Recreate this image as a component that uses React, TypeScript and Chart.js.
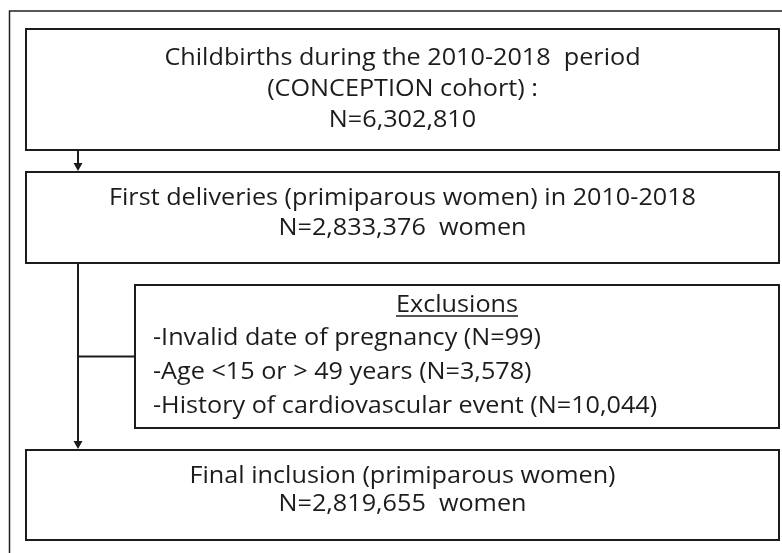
import React, { useEffect, useRef } from "react";
import { Chart, registerables } from "chart.js";

Chart.register(...registerables);

// ---- Data ----
const STEP_TEXT: string[][] = [
  ["Childbirths during the 2010-2018  period", "(CONCEPTION cohort) :"],
  ["First deliveries (primiparous women) in 2010-2018"],
  ["Final inclusion (primiparous women)"],
];
const STEP_N: number[] = [6302810, 2833376, 2819655];
const STEP_SUFFIX: string[] = ["", "  women", "  women"];
const EXCLUSION_TITLE = "Exclusions";
const EXCLUSION_REASONS: string[] = [
  "Invalid date of pregnancy",
  "Age <15 or > 49 years",
  "History of cardiovascular event",
];
const EXCLUSION_N: number[] = [99, 3578, 10044];

// ---- Layout (in scale units) ----
const FRAME = { left: 9.5, top: 11 };
const STEP_BOX_X = [26, 779];
const STEP_BOX_Y: number[][] = [
  [29, 150],
  [172, 263],
  [450, 540],
];
const STEP_BASELINES: number[][] = [
  [65, 96, 127],
  [205, 235],
  [483, 511],
];
const EXCL_BOX = { x0: 135, x1: 779, y0: 285, y1: 428 };
const EXCL_BASELINES = [312, 345, 379, 413];
const EXCL_TEXT_X = 153;
const SPINE_X = 78;

const FONT_FAMILY = "'Open Sans', Lato, sans-serif";
const FONT_SIZE = 24;
const TEXT_STRETCH = 1.05;
const INK = "#1c1c1c";

const fmt = (n: number) => n.toLocaleString("en-US");

const flowPlugin = {
  id: "flow",
  afterDraw(chart: any) {
    const { ctx } = chart;
    const xs = chart.scales.x;
    const ys = chart.scales.y;
    const X = (v: number) => xs.getPixelForValue(v);
    const Y = (v: number) => ys.getPixelForValue(v);
    ctx.save();
    // outer frame
    ctx.strokeStyle = "#222";
    ctx.lineWidth = 1.5;
    ctx.beginPath();
    ctx.moveTo(X(FRAME.left), Y(553));
    ctx.lineTo(X(FRAME.left), Y(FRAME.top));
    ctx.lineTo(X(782), Y(FRAME.top));
    ctx.stroke();

    ctx.strokeStyle = INK;
    ctx.lineWidth = 2;
    const rect = (x0: number, y0: number, x1: number, y1: number) => {
      ctx.strokeRect(X(x0), Y(y0), X(x1) - X(x0), Y(y1) - Y(y0));
    };
    STEP_BOX_Y.forEach(([y0, y1]) => rect(STEP_BOX_X[0], y0, STEP_BOX_X[1], y1));
    rect(EXCL_BOX.x0, EXCL_BOX.y0, EXCL_BOX.x1, EXCL_BOX.y1);

    const arrow = (x: number, y0: number, y1: number) => {
      ctx.beginPath();
      ctx.moveTo(X(x), Y(y0));
      ctx.lineTo(X(x), Y(y1) - 7);
      ctx.stroke();
      ctx.beginPath();
      ctx.fillStyle = INK;
      ctx.moveTo(X(x) - 4.5, Y(y1) - 9);
      ctx.lineTo(X(x) + 4.5, Y(y1) - 9);
      ctx.lineTo(X(x), Y(y1) - 1);
      ctx.closePath();
      ctx.fill();
    };
    arrow(SPINE_X, STEP_BOX_Y[0][1], STEP_BOX_Y[1][0]);
    arrow(SPINE_X, STEP_BOX_Y[1][1], STEP_BOX_Y[2][0]);
    const midY = (EXCL_BOX.y0 + EXCL_BOX.y1) / 2;
    ctx.beginPath();
    ctx.moveTo(X(SPINE_X), Y(midY));
    ctx.lineTo(X(EXCL_BOX.x0), Y(midY));
    ctx.stroke();

    // texts
    ctx.fillStyle = INK;
    ctx.font = `${FONT_SIZE}px ${FONT_FAMILY}`;
    ctx.textBaseline = "alphabetic";
    const text = (t: string, x: number, y: number, align: "center" | "left") => {
      ctx.save();
      ctx.textAlign = align;
      ctx.translate(x, y);
      ctx.scale(TEXT_STRETCH, 1);
      ctx.fillText(t, 0, 0);
      ctx.restore();
    };
    const cx = X((STEP_BOX_X[0] + STEP_BOX_X[1]) / 2);
    STEP_TEXT.forEach((lines, i) => {
      const all = [...lines, `N=${fmt(STEP_N[i])}${STEP_SUFFIX[i]}`];
      all.forEach((t, j) => text(t, cx, Y(STEP_BASELINES[i][j]), "center"));
    });
    const ex = X((EXCL_BOX.x0 + EXCL_BOX.x1) / 2);
    text(EXCLUSION_TITLE, ex, Y(EXCL_BASELINES[0]), "center");
    const w = ctx.measureText(EXCLUSION_TITLE).width * TEXT_STRETCH;
    ctx.lineWidth = 1.5;
    ctx.beginPath();
    ctx.moveTo(ex - w / 2, Y(EXCL_BASELINES[0]) + 4);
    ctx.lineTo(ex + w / 2, Y(EXCL_BASELINES[0]) + 4);
    ctx.stroke();
    EXCLUSION_REASONS.forEach((r, k) => {
      text(`-${r} (N=${fmt(EXCLUSION_N[k])})`, X(EXCL_TEXT_X), Y(EXCL_BASELINES[k + 1]), "left");
    });
    ctx.restore();
  },
};

export default function App() {
  const ref = useRef<HTMLCanvasElement | null>(null);
  useEffect(() => {
    if (!ref.current) return;
    const chart = new Chart(ref.current, {
      type: "scatter",
      data: { datasets: [] },
      options: {
        animation: false,
        responsive: false,
        devicePixelRatio: 1,
        layout: { padding: 0 },
        plugins: { legend: { display: false }, tooltip: { enabled: false } },
        scales: {
          x: { type: "linear", min: 0, max: 782, display: false },
          y: { type: "linear", min: 0, max: 553, reverse: true, display: false },
        },
      },
      plugins: [flowPlugin],
    });
    return () => chart.destroy();
  }, []);
  return (
    <div style={{ position: "fixed", left: 0, top: 0, width: 782, height: 553, background: "#fff" }}>
      <canvas ref={ref} width={782} height={553} style={{ display: "block" }} />
    </div>
  );
}
